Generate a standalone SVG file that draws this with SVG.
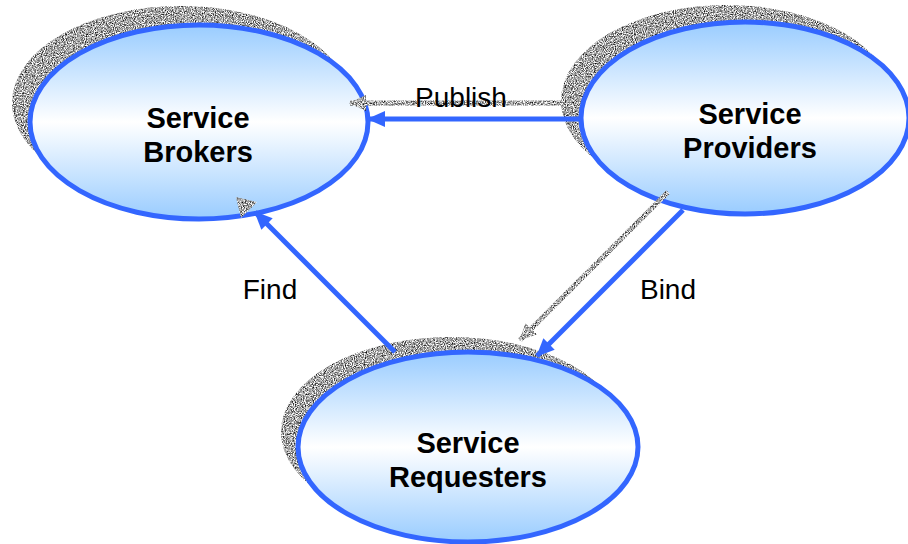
<svg xmlns="http://www.w3.org/2000/svg" width="908" height="544" viewBox="0 0 908 544">
  <defs>
    <linearGradient id="nodeFill" x1="0" y1="0" x2="0" y2="1">
      <stop offset="0" stop-color="#99CCFF"/>
      <stop offset="0.5" stop-color="#FFFFFF"/>
      <stop offset="1" stop-color="#99CCFF"/>
    </linearGradient>
    <!-- grainy grey used for the drop shadows -->
    <filter id="grain" filterUnits="userSpaceOnUse" x="0" y="0" width="908" height="544" color-interpolation-filters="sRGB">
      <feTurbulence type="fractalNoise" baseFrequency="0.9" numOctaves="2" seed="3" result="noise"/>
      <feColorMatrix in="noise" type="matrix" values="1.9 0 0 0 -0.3  1.9 0 0 0 -0.3  1.9 0 0 0 -0.3  0 0 0 0 1" result="tex"/>
      <feComposite in="tex" in2="SourceGraphic" operator="in"/>
    </filter>
    <marker id="blueHead" markerUnits="userSpaceOnUse" markerWidth="20" markerHeight="18" refX="17" refY="8" orient="auto">
      <path d="M0,0 L18,8 L0,16 Z" fill="#3366FF"/>
    </marker>
    <marker id="greyHead" markerUnits="userSpaceOnUse" markerWidth="20" markerHeight="18" refX="16" refY="8" orient="auto">
      <path d="M0,0 L17,8 L0,16 Z" fill="#999"/>
    </marker>
  </defs>
  <style>
    .shadow { fill: #999; filter: url(#grain); }
    .node { fill: url(#nodeFill); stroke: #3366FF; stroke-width: 5; }
    .title { font-family: "Liberation Sans", Arial, sans-serif; font-weight: bold; font-size: 29px; fill: #000; text-anchor: middle; }
    .label { font-family: "Liberation Sans", Arial, sans-serif; font-size: 28px; fill: #000; text-anchor: middle; }
    .flow { stroke: #3366FF; stroke-width: 5; fill: none; marker-end: url(#blueHead); }
    .ghost { stroke: #999; stroke-width: 5; fill: none; marker-end: url(#greyHead); filter: url(#grain); }
  </style>

  <!-- drop shadows -->
  <g id="shadows">
    <ellipse class="shadow" cx="181" cy="103" rx="169" ry="97"/>
    <ellipse class="shadow" cx="727" cy="101" rx="166" ry="96"/>
    <ellipse class="shadow" cx="451" cy="432" rx="170" ry="95"/>
  </g>

  <g id="brokers">
    <ellipse class="node" cx="199" cy="122" rx="169" ry="97"/>
    <text class="title" x="198" y="128">Service</text>
    <text class="title" x="198" y="162">Brokers</text>
  </g>

  <g id="providers">
    <ellipse class="node" cx="745" cy="118" rx="164" ry="96"/>
    <text class="title" x="750" y="124">Service</text>
    <text class="title" x="750" y="158">Providers</text>
  </g>

  <g id="requesters">
    <ellipse class="node" cx="468" cy="447" rx="170" ry="95"/>
    <text class="title" x="468" y="453">Service</text>
    <text class="title" x="468" y="487">Requesters</text>
  </g>

  <g id="connectors">
    <!-- grey echoes of the arrows -->
    <path class="ghost" d="M575,103 L350,103"/>
    <path class="ghost" d="M668,192 L520,340"/>
    <polygon points="236,197 257,202 241,218" fill="#999" filter="url(#grain)"/>
    <!-- publish -->
    <path class="flow" d="M580,119 L368,119"/>
    <!-- find -->
    <path class="flow" d="M395,352 L255,212"/>
    <!-- bind -->
    <path class="flow" d="M683,210 L537,356"/>
    <text class="label" x="461" y="107">Publish</text>
    <text class="label" x="270" y="299">Find</text>
    <text class="label" x="668" y="299">Bind</text>
  </g>
</svg>
